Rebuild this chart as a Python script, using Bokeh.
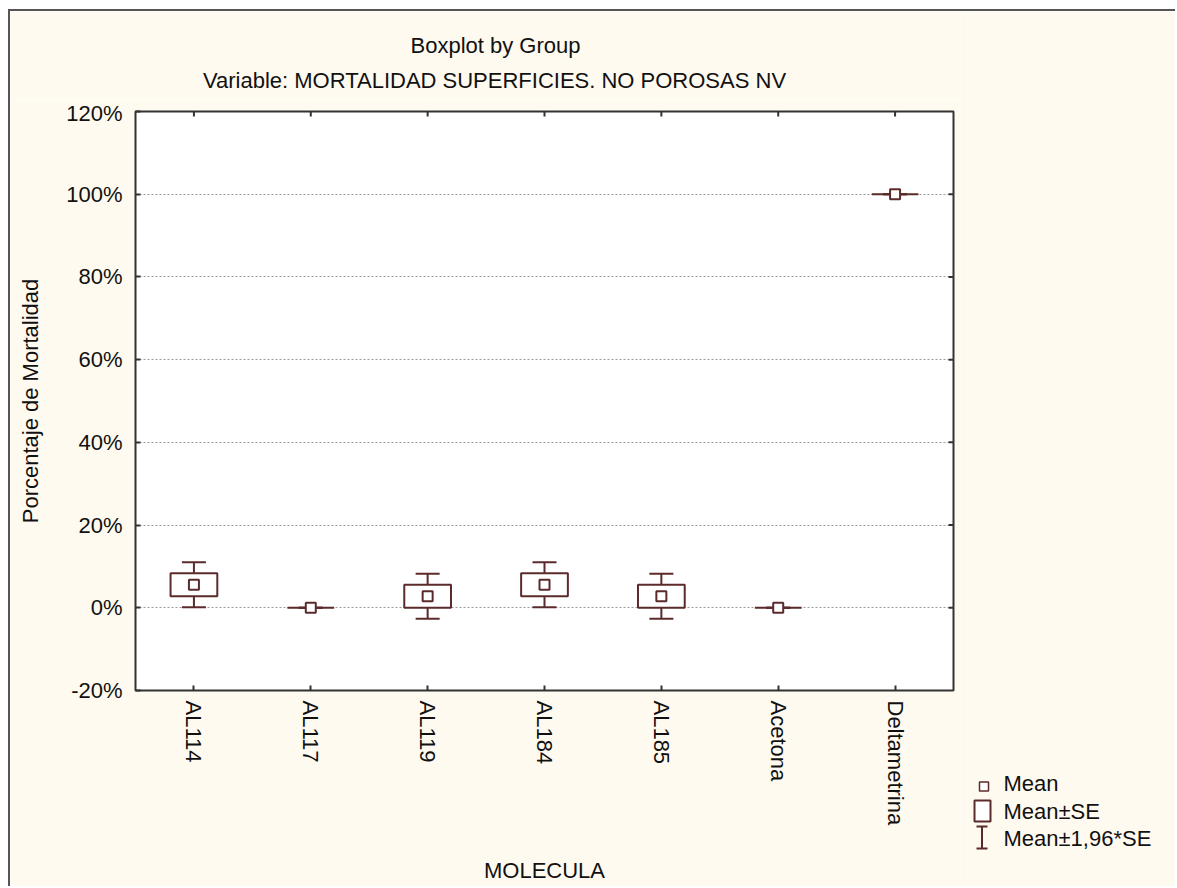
import math
from bokeh.plotting import figure
from bokeh.layouts import column, row
from bokeh.models import (FixedTicker, Label, PrintfTickFormatter, Range1d,
                          ColumnDataSource)
from bokeh.core.properties import value
from bokeh.embed import file_html
from bokeh.resources import INLINE

# ---------------- data ----------------
categories = ["AL114", "AL117", "AL119", "AL184", "AL185", "Acetona", "Deltametrina"]
means = [5.56, 0.0, 2.78, 5.56, 2.78, 0.0, 100.0]
ses = [2.78, 0.0, 2.78, 2.78, 2.78, 0.0, 0.0]
y_ticks = [-20, 0, 20, 40, 60, 80, 100, 120]
grid_ticks = [0, 20, 40, 60, 80, 100]

title1 = "Boxplot by Group"
title2 = "Variable: MORTALIDAD SUPERFICIES. NO POROSAS NV"
x_title = "MOLECULA"
y_title = "Porcentaje de Mortalidad"
legend_labels = ["Mean", "Mean\u00b1SE", "Mean\u00b11,96*SE"]

# ---------------- derived ----------------
xs = [i + 0.5 for i in range(len(categories))]
se_lo = [m - s for m, s in zip(means, ses)]
se_hi = [m + s for m, s in zip(means, ses)]
ci_lo = [m - 1.96 * s for m, s in zip(means, ses)]
ci_hi = [m + 1.96 * s for m, s in zip(means, ses)]
src = ColumnDataSource(dict(x=xs, mean=means, se_lo=se_lo, se_hi=se_hi,
                            ci_lo=ci_lo, ci_hi=ci_hi))

MAROON = "#5B2B2B"
FRAME = "#333333"
BG = "#FFFAF0"
TXT = "#111111"
FONT = "Liberation Sans"
FS = "22px"

TOP_H = 89
MAIN_W, MAIN_H = 950, 786
SIDE_W, SIDE_H = 215, TOP_H + MAIN_H

def blank_fig(w, h):
    f = figure(width=w, height=h, x_range=Range1d(0, w), y_range=Range1d(h, 0),
               output_backend="svg", toolbar_location=None,
               x_axis_location=None, y_axis_location=None, min_border=0,
               background_fill_color=BG, border_fill_color=BG, outline_line_color=None)
    f.grid.visible = False
    return f

# ---------------- title strip ----------------
top = blank_fig(MAIN_W, TOP_H)
for txt, cx, cy in [(title1, 485, 34), (title2, 484, 69)]:
    top.add_layout(Label(x=cx, y=cy, text=txt, text_align="center", text_baseline="middle",
                         text_font=FONT, text_font_size=FS, text_color=TXT))

# ---------------- main plot ----------------
x_range = Range1d(0, len(categories))
y_range = Range1d(y_ticks[0], y_ticks[-1])
p = figure(width=MAIN_W, height=MAIN_H, x_range=x_range, y_range=y_range,
           output_backend="svg", toolbar_location=None,
           min_border_left=125, min_border_right=7, min_border_top=11,
           min_border_bottom=MAIN_H - 11 - 580, background_fill_color="white",
           border_fill_color=BG, outline_line_color=FRAME, outline_line_width=2)

p.xgrid.visible = False
p.ygrid.ticker = FixedTicker(ticks=grid_ticks)
p.ygrid.grid_line_color = "#9a9a9a"
p.ygrid.grid_line_dash = "2 2"
p.ygrid.grid_line_width = 1

def style_axis(ax):
    ax.axis_line_color = None
    ax.major_tick_in = 5
    ax.major_tick_out = 0
    ax.minor_tick_line_color = None
    ax.major_tick_line_color = FRAME
    ax.major_tick_line_width = 2
    ax.major_label_text_font = FONT
    ax.major_label_text_color = TXT
    ax.major_label_text_font_size = FS
    ax.axis_label_text_font = FONT
    ax.axis_label_text_font_size = FS
    ax.axis_label_text_font_style = "normal"
    ax.axis_label_text_color = TXT

xa = p.xaxis[0]
xa.ticker = FixedTicker(ticks=xs)
xa.major_label_overrides = {x: c for x, c in zip(xs, categories)}
xa.major_label_orientation = "vertical"
xa.major_label_standoff = 10
xa.axis_label = x_title
xa.axis_label_standoff = 30
style_axis(xa)

ya = p.yaxis[0]
ya.ticker = FixedTicker(ticks=y_ticks)
ya.formatter = PrintfTickFormatter(format="%d%%")
ya.major_label_standoff = 13
ya.axis_label = y_title
ya.axis_label_standoff = 20
style_axis(ya)

# inward ticks on the top and right edges (half of each dash is clipped by the frame)
p.scatter(x=xs, y=[y_ticks[-1]] * len(xs), marker="dash", angle=math.pi / 2, size=10,
          line_color=FRAME, line_width=2)
p.scatter(x=[len(categories)] * len(grid_ticks), y=grid_ticks, marker="dash", size=10,
          line_color=FRAME, line_width=2)

# whiskers (Mean +- 1.96*SE)
p.segment(x0="x", y0="ci_lo", x1="x", y1="se_lo", source=src,
          line_color=MAROON, line_width=2)
p.segment(x0="x", y0="se_hi", x1="x", y1="ci_hi", source=src,
          line_color=MAROON, line_width=2)
p.scatter(x="x", y="ci_lo", marker="dash", size=24, source=src,
          line_color=MAROON, line_width=2)
p.scatter(x="x", y="ci_hi", marker="dash", size=24, source=src,
          line_color=MAROON, line_width=2)
# boxes (Mean +- SE)
p.vbar(x="x", width=0.4, bottom="se_lo", top="se_hi", source=src,
       fill_color="white", line_color=MAROON, line_width=2)
# mean
p.scatter(x="x", y="mean", marker="square", size=10, source=src,
          fill_color="white", line_color=MAROON, line_width=2)

# ---------------- legend strip (pixel coordinates, y down) ----------------
side = blank_fig(SIDE_W, SIDE_H)
side.scatter(x=[23.5], y=[775], marker="square", size=9, fill_color="white",
             line_color=MAROON, line_width=1.5)
side.quad(left=[14], right=[30], top=[789], bottom=[810], fill_color="white",
          line_color=MAROON, line_width=2)
side.segment(x0=[16, 16, 21.5], y0=[815, 837, 815], x1=[27, 27, 21.5], y1=[815, 837, 837],
             line_color=MAROON, line_width=2)
side.text(x=[43, 43, 43], y=[772, 800, 827], text=legend_labels, text_align="left",
          text_baseline="middle", text_font=value(FONT), text_font_size=FS,
          text_color=TXT)

layout = row(column(top, row(p, spacing=0), spacing=0), side, spacing=0)
layout.styles = {"margin-left": "8px", "margin-top": "9px",
                 "border-top": "2px solid #555555", "border-left": "2px solid #555555"}

open("out.html", "w").write(file_html(layout, INLINE))
